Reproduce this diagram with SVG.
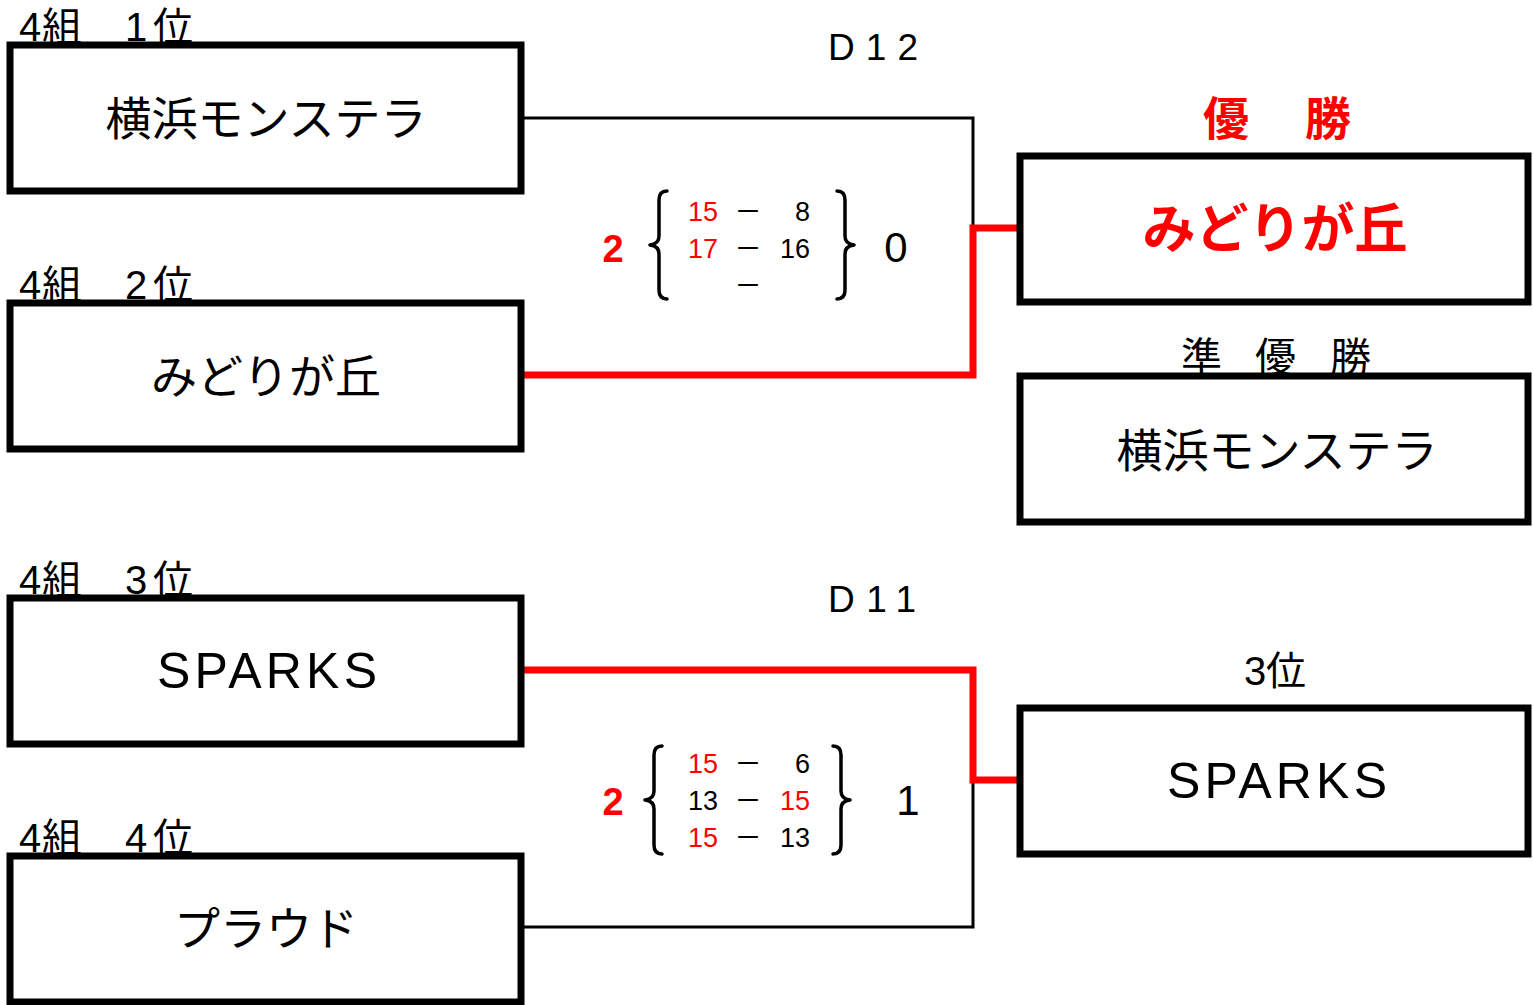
<svg xmlns="http://www.w3.org/2000/svg" width="1533" height="1005" viewBox="0 0 1533 1005">
<style>
text{font-family:"Liberation Sans","Noto Sans CJK JP",sans-serif;fill:#000}
.box{fill:#fff;stroke:#000;stroke-width:7}
.lbl{font-size:40px}
.team{font-size:46px;text-anchor:middle}
.red{fill:#ff0000}
.b{font-weight:bold}
.sc{font-size:27px}
.win{fill:none;stroke:#ff0000;stroke-width:7}
.lose{fill:none;stroke:#000;stroke-width:3}
.brace{fill:none;stroke:#000;stroke-width:3.5;stroke-linecap:round;stroke-linejoin:round}
</style>
<rect width="1533" height="1005" fill="#fff"/>
<g id="connectors">
<path class="lose" d="M521 118 H973 V228"/>
<path class="win" d="M521 375 H973 V228 H1020"/>
<path class="lose" d="M521 927 H973 V780"/>
<path class="win" d="M521 670 H973 V780 H1020"/>
</g>
<g id="team1">
<text class="lbl" x="19 42 89 125 153" y="41">4組　1位</text>
<rect class="box" x="10" y="45" width="511" height="146"/>
<text class="team" x="266" y="135">横浜モンステラ</text>
</g>
<g id="team2">
<text class="lbl" x="19 42 89 125 153" y="299">4組　2位</text>
<rect class="box" x="10" y="303" width="511" height="146"/>
<text class="team" x="266" y="393">みどりが丘</text>
</g>
<g id="team3">
<text class="lbl" x="19 42 89 125 153" y="594">4組　3位</text>
<rect class="box" x="10" y="598" width="511" height="146"/>
<text class="team" x="267" y="688" style="font-size:50px" textLength="220" lengthAdjust="spacing">SPARKS</text>
</g>
<g id="team4">
<text class="lbl" x="19 42 89 125 153" y="852">4組　4位</text>
<rect class="box" x="10" y="856" width="511" height="146"/>
<text class="team" x="266" y="945">プラウド</text>
</g>
<g id="matchD12">
<text x="873" y="60" style="font-size:37px;text-anchor:middle" textLength="90" lengthAdjust="spacing">D12</text>
<text class="red b" x="613" y="262" style="font-size:38px;text-anchor:middle">2</text>
<path class="brace" d="M667 191 Q659 191 659 200 V236 Q659 244 650 245 Q659 246 659 254 V290 Q659 299 667 299"/>
<path class="brace" d="M837 191 Q845 191 845 200 V236 Q845 244 854 245 Q845 246 845 254 V290 Q845 299 837 299"/>
<text class="sc red" x="718" y="221" style="text-anchor:end">15</text>
<text class="sc" x="748" y="221" style="text-anchor:middle">－</text>
<text class="sc" x="810" y="221" style="text-anchor:end">8</text>
<text class="sc red" x="718" y="258" style="text-anchor:end">17</text>
<text class="sc" x="748" y="258" style="text-anchor:middle">－</text>
<text class="sc" x="810" y="258" style="text-anchor:end">16</text>
<text class="sc" x="748" y="295" style="text-anchor:middle">－</text>
<text x="896" y="262" style="font-size:42px;text-anchor:middle">0</text>
</g>
<g id="matchD11">
<text x="872" y="612" style="font-size:37px;text-anchor:middle" textLength="88" lengthAdjust="spacing">D11</text>
<text class="red b" x="613" y="815" style="font-size:38px;text-anchor:middle">2</text>
<path class="brace" d="M662 746 Q654 746 654 755 V791 Q654 799 645 800 Q654 801 654 809 V845 Q654 854 662 854"/>
<path class="brace" d="M833 746 Q841 746 841 755 V791 Q841 799 850 800 Q841 801 841 809 V845 Q841 854 833 854"/>
<text class="sc red" x="718" y="773" style="text-anchor:end">15</text>
<text class="sc" x="748" y="773" style="text-anchor:middle">－</text>
<text class="sc" x="810" y="773" style="text-anchor:end">6</text>
<text class="sc" x="718" y="810" style="text-anchor:end">13</text>
<text class="sc" x="748" y="810" style="text-anchor:middle">－</text>
<text class="sc red" x="810" y="810" style="text-anchor:end">15</text>
<text class="sc red" x="718" y="847" style="text-anchor:end">15</text>
<text class="sc" x="748" y="847" style="text-anchor:middle">－</text>
<text class="sc" x="810" y="847" style="text-anchor:end">13</text>
<text x="908" y="815" style="font-size:42px;text-anchor:middle">1</text>
</g>
<g id="champion">
<text class="red b" x="1203 1255 1305" y="135" style="font-size:46px">優　勝</text>
<rect class="box" x="1020" y="156" width="508" height="146"/>
<text class="red b team" x="1275" y="248" style="font-size:53px">みどりが丘</text>
</g>
<g id="runnerup">
<text x="1181 1220 1255 1294 1330" y="372" style="font-size:41px">準　優　勝</text>
<rect class="box" x="1020" y="376" width="508" height="146"/>
<text class="team" x="1277" y="467">横浜モンステラ</text>
</g>
<g id="third">
<text x="1275" y="685" style="font-size:40px;text-anchor:middle">3位</text>
<rect class="box" x="1020" y="708" width="508" height="146"/>
<text class="team" x="1277" y="798" style="font-size:50px" textLength="220" lengthAdjust="spacing">SPARKS</text>
</g>
</svg>
